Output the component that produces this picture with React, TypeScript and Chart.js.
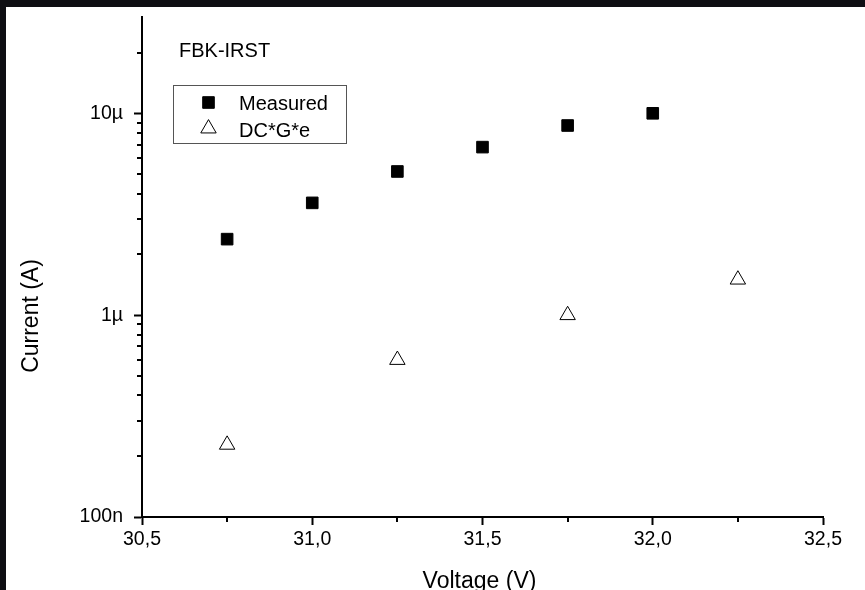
import { useEffect, useRef } from "react";
import { Chart, registerables } from "chart.js";
import { drawPoint } from "chart.js/helpers";

Chart.register(...registerables);

const voltages = [30.75, 31.0, 31.25, 31.5, 31.75, 32.0];
const measured = [2.38e-6, 3.6e-6, 5.15e-6, 6.8e-6, 8.7e-6, 1.0e-5];
const dcVoltages = [30.75, 31.25, 31.75, 32.25];
const dcGe = [2.28e-7, 6.0e-7, 1.0e-6, 1.5e-6];

const xMajorTicks = [30.5, 31.0, 31.5, 32.0, 32.5];
const xMinorTicks = [30.75, 31.25, 31.75, 32.25];
const yMajorTicks = [1e-7, 1e-6, 1e-5];
const yTickLabels = ["100n", "1µ", "10µ"];
const yMinorTicks = [
  2e-7, 3e-7, 4e-7, 5e-7, 6e-7, 7e-7, 8e-7, 9e-7,
  2e-6, 3e-6, 4e-6, 5e-6, 6e-6, 7e-6, 8e-6, 9e-6,
  2e-5,
];

const FONT = "'Liberation Sans', Arial, sans-serif";

const overlayPlugin = {
  id: "overlay",
  afterDraw(chart: any) {
    const ctx = chart.ctx as CanvasRenderingContext2D;
    const ca = chart.chartArea;
    const xs = chart.scales.x;
    const ys = chart.scales.y;
    ctx.save();
    // minor ticks
    ctx.strokeStyle = "#000";
    ctx.lineWidth = 2;
    ctx.beginPath();
    for (const v of yMinorTicks) {
      const py = Math.round(ys.getPixelForValue(v));
      ctx.moveTo(ca.left - 5, py);
      ctx.lineTo(ca.left, py);
    }
    for (const v of xMinorTicks) {
      const px = Math.round(xs.getPixelForValue(v));
      ctx.moveTo(px, ca.bottom);
      ctx.lineTo(px, ca.bottom + 5);
    }
    ctx.stroke();

    // inner title
    ctx.fillStyle = "#000";
    ctx.font = `20px ${FONT}`;
    ctx.textAlign = "left";
    ctx.textBaseline = "alphabetic";
    ctx.fillText("FBK-IRST", ca.left + 37, ca.top + 40);

    // legend
    const lx = ca.left + 31;
    const ly = ca.top + 68;
    ctx.strokeStyle = "#555";
    ctx.lineWidth = 1;
    ctx.strokeRect(lx + 0.5, ly + 0.5, 173, 58);
    const ds = chart.data.datasets;
    const entries = [
      { ds: ds[0], y: ly + 17.5, text: "Measured", base: ly + 24.5 },
      { ds: ds[1], y: ly + 43.5, text: "DC*G*e", base: ly + 51.5 },
    ];
    for (const e of entries) {
      ctx.fillStyle = e.ds.backgroundColor;
      ctx.strokeStyle = e.ds.borderColor;
      ctx.lineWidth = e.ds.borderWidth;
      drawPoint(ctx, { pointStyle: e.ds.pointStyle, radius: e.ds.pointRadius, borderWidth: e.ds.borderWidth, rotation: 0 } as any, lx + 35.5, e.y);
      ctx.fillStyle = "#000";
      ctx.font = `20px ${FONT}`;
      ctx.fillText(e.text, lx + 66, e.base);
    }

    // axis titles
    ctx.fillStyle = "#000";
    ctx.font = `23px ${FONT}`;
    ctx.textAlign = "center";
    ctx.fillText("Voltage (V)", (ca.left + ca.right) / 2 - 3, ca.bottom + 71);
    ctx.save();
    ctx.translate(32, ca.top + 299);
    ctx.rotate(-Math.PI / 2);
    ctx.fillText("Current (A)", 0, 0);
    ctx.restore();
    ctx.restore();
  },
};

export default function App() {
  const ref = useRef<HTMLCanvasElement>(null);
  useEffect(() => {
    if (!ref.current) return;
    const chart = new Chart(ref.current, {
      type: "scatter",
      data: {
        datasets: [
          {
            label: "Measured",
            data: voltages.map((v, i) => ({ x: v, y: measured[i] })),
            pointStyle: "rect",
            pointRadius: 8.2,
            pointHoverRadius: 8.2,
            backgroundColor: "#000",
            borderColor: "#000",
            borderWidth: 1,
          },
          {
            label: "DC*G*e",
            data: dcVoltages.map((v, i) => ({ x: v, y: dcGe[i] })),
            pointStyle: "triangle",
            pointRadius: 8.9,
            pointHoverRadius: 8.9,
            backgroundColor: "#fff",
            borderColor: "#000",
            borderWidth: 1,
          },
        ],
      },
      options: {
        animation: false,
        responsive: false,
        maintainAspectRatio: false,
        events: [],
        layout: { padding: { top: 10, right: 42, left: 0, bottom: 0 } },
        plugins: { legend: { display: false }, tooltip: { enabled: false } },
        scales: {
          x: {
            type: "linear",
            min: 30.5,
            max: 32.5,
            afterBuildTicks: (s: any) => {
              s.ticks = xMajorTicks.map((v) => ({ value: v }));
            },
            afterFit: (s: any) => {
              s.height = 73;
              s.paddingLeft = 0;
              s.paddingRight = 0;
            },
            ticks: {
              autoSkip: false,
              maxRotation: 0,
              padding: 3,
              color: "#000",
              font: { family: FONT, size: 19.5 },
              callback: (v: any) => Number(v).toFixed(1).replace(".", ","),
            },
            grid: { drawOnChartArea: false, tickLength: 8, tickColor: "#000", tickWidth: 2 },
            border: { color: "#000", width: 2 },
          },
          y: {
            type: "logarithmic",
            min: 1e-7,
            max: 3e-5,
            afterBuildTicks: (s: any) => {
              s.ticks = yMajorTicks.map((v) => ({ value: v }));
            },
            afterFit: (s: any) => {
              s.width = 136;
              s.paddingTop = 0;
              s.paddingBottom = 0;
            },
            ticks: {
              autoSkip: false,
              padding: 11,
              color: "#000",
              font: { family: FONT, size: 19.5 },
              callback: (v: any) => {
                const i = yMajorTicks.findIndex((t) => Math.abs(t - Number(v)) / t < 1e-6);
                return i >= 0 ? yTickLabels[i] : "";
              },
            },
            grid: { drawOnChartArea: false, tickLength: 8, tickColor: "#000", tickWidth: 2 },
            border: { color: "#000", width: 2 },
          },
        },
      },
      plugins: [overlayPlugin],
    });
    return () => chart.destroy();
  }, []);

  return (
    <div style={{ position: "fixed", left: 0, top: 0, width: 865, height: 590, background: "#0e0e13", overflow: "hidden" }}>
      <div style={{ position: "absolute", left: 6, top: 7, width: 859, height: 583, background: "#fff" }}>
        <canvas ref={ref} width={859} height={583} style={{ display: "block", width: 859, height: 583 }} />
      </div>
    </div>
  );
}
